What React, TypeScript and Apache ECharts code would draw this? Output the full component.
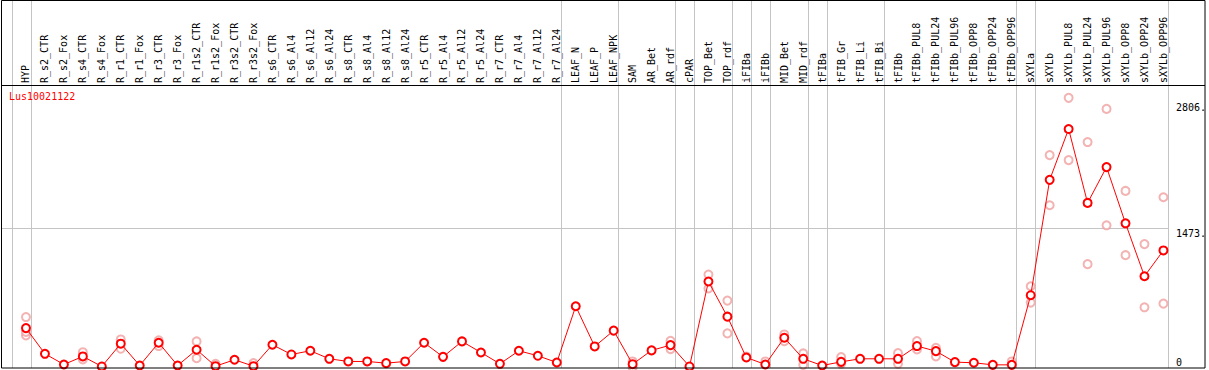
import React, { useEffect, useRef } from "react";
import * as echarts from "echarts";

const title = "Lus10021122";

const categories = [
  "HYP", "R_s2_CTR", "R_s2_Fox", "R_s4_CTR", "R_s4_Fox", "R_r1_CTR", "R_r1_Fox", "R_r3_CTR", "R_r3_Fox",
  "R_r1s2_CTR", "R_r1s2_Fox", "R_r3s2_CTR", "R_r3s2_Fox", "R_s6_CTR", "R_s6_Al4", "R_s6_Al12", "R_s6_Al24",
  "R_s8_CTR", "R_s8_Al4", "R_s8_Al12", "R_s8_Al24", "R_r5_CTR", "R_r5_Al4", "R_r5_Al12", "R_r5_Al24",
  "R_r7_CTR", "R_r7_Al4", "R_r7_Al12", "R_r7_Al24", "LEAF_N", "LEAF_P", "LEAF_NPK", "SAM", "AR_Bet", "AR_rdf",
  "cPAR", "TOP_Bet", "TOP_rdf", "iFIBa", "iFIBb", "MID_Bet", "MID_rdf", "tFIBa", "tFIB_Gr", "tFIB_Li", "tFIB_Bi",
  "tFIBb", "tFIBb_PUL8", "tFIBb_PUL24", "tFIBb_PUL96", "tFIBb_OPP8", "tFIBb_OPP24", "tFIBb_OPP96",
  "sXYLa", "sXYLb", "sXYLb_PUL8", "sXYLb_PUL24", "sXYLb_PUL96", "sXYLb_OPP8", "sXYLb_OPP24", "sXYLb_OPP96",
];

const meanValues = [
  417, 145, 32, 117, 11, 252, 21, 262, 21,
  188, 14, 82, 14, 241, 138, 177, 92,
  64, 64, 46, 64, 262, 113, 276, 159,
  39, 177, 124, 53, 648, 223, 390, 35, 181, 237,
  11, 910, 538, 106, 32, 315, 92, 21, 60, 92, 92,
  92, 227, 173, 57, 50, 28, 28,
  765, 1986, 2524, 1742, 2121, 1526, 966, 1239,
];

const repHigh = [
  534, null, null, 162, null, 297, null, 287, null,
  276, 39, null, 46, null, null, null, null,
  null, null, null, null, null, null, null, null,
  null, null, null, null, null, null, null, 64, null, 283,
  null, 984, 708, 117, 64, 350, 149, null, 110, null, null,
  152, 279, 209, null, null, null, 64,
  860, 2248, 2854, 2386, 2737, 1869, 1306, 1802,
];

const repLow = [
  340, null, null, 85, null, 198, null, 227, null,
  99, null, null, null, null, null, null, null,
  null, null, null, null, null, null, null, null,
  null, null, null, null, null, null, null, 3, null, 195,
  null, 836, 361, null, null, 279, 28, null, 39, null, null,
  39, 191, 117, null, null, null, null,
  687, 1717, 2195, 1094, 1505, 1189, 637, 676,
];

const repMid = [
  377, null, null, null, null, null, null, null, null,
  null, null, null, null, null, null, null, null,
  null, null, null, null, null, null, null, null,
  null, null, null, null, null, null, null, null, null, null,
  null, null, null, null, null, null, null, null, null, null, null,
  null, null, null, null, null, null, null,
  null, null, null, null, null, null, null, null,
];

// indices of the last category of each group (separators drawn after them)
const groupEnds = [0, 28, 31, 34, 35, 37, 38, 39, 41, 42, 45, 52, 53, 60];
const yTickValues = [0, 1473, 2806];
const refLineValues = [1473];
const yMax = 2990;

export default function App() {
  const ref = useRef<HTMLDivElement>(null);
  useEffect(() => {
    const chart = echarts.init(ref.current!, null, { renderer: "svg" });
    const font = "'DejaVu Sans Mono', monospace";
    const crisp = (v: number) => Math.round(v) + 0.5;
    const sepStyle = { stroke: "#c4c4c4", lineWidth: 1 };

    const repSeries = (data: (number | null)[]) => ({
      type: "scatter",
      data,
      symbol: "emptyCircle",
      symbolSize: 8,
      itemStyle: { color: "#f0a0a0", borderColor: "#f0a0a0", borderWidth: 1.2 },
      z: 3,
      silent: true,
    });

    const yAxisBase = {
      type: "value",
      position: "right",
      min: 0,
      max: yMax,
      axisLine: { show: false },
      axisTick: { show: false },
      splitLine: { show: false },
    };

    chart.setOption({
      animation: false,
      backgroundColor: "#fff",
      title: {
        text: title,
        left: 9,
        top: 91,
        padding: 0,
        textStyle: { color: "#ff0000", fontSize: 10, fontFamily: font, fontWeight: "normal" },
      },
      grid: { left: 16.5, right: 33.5, top: 85, bottom: 2.5 },
      xAxis: {
        type: "category",
        data: categories,
        position: "top",
        boundaryGap: true,
        axisLine: { show: false },
        axisTick: { show: false },
        splitLine: { show: false },
        axisLabel: { rotate: 90, interval: 0, margin: 2, fontFamily: font, fontSize: 10, color: "#000" },
      },
      yAxis: [
        {
          ...yAxisBase,
          axisLabel: {
            customValues: yTickValues.filter((v) => v > 0),
            verticalAlign: "top",
            margin: 3,
            formatter: (v: number) => v + ".",
            fontFamily: font,
            fontSize: 10,
            color: "#000",
          },
        },
        {
          ...yAxisBase,
          axisLabel: {
            customValues: yTickValues.filter((v) => v === 0),
            verticalAlign: "bottom",
            margin: 3,
            formatter: (v: number) => String(v),
            fontFamily: font,
            fontSize: 10,
            color: "#000",
          },
        },
      ],
      graphic: [
        {
          type: "rect",
          z: 100,
          silent: true,
          shape: { x: 1.5, y: 0.5, width: 1203.5, height: 367.5 },
          style: { fill: "none", stroke: "#000", lineWidth: 1 },
        },
        {
          type: "line",
          z: 100,
          silent: true,
          shape: { x1: 1, y1: 85.5, x2: 1205, y2: 85.5 },
          style: { stroke: "#000", lineWidth: 1 },
        },
      ],
      series: [
        {
          type: "custom",
          clip: false,
          silent: true,
          z: 1,
          data: groupEnds.map((i) => [i, 0]),
          renderItem: (params: any, api: any) => {
            const band = api.size([1, 0])[0];
            const x = crisp(api.coord([api.value(0), 0])[0] + band * 0.24);
            const children: any[] = [
              { type: "line", shape: { x1: x, y1: 0, x2: x, y2: 368 }, style: sepStyle },
            ];
            if (params.dataIndex === 0) {
              const x0 = crisp(api.coord([0, 0])[0] - band + band * 0.24);
              children.push({ type: "line", shape: { x1: x0, y1: 0, x2: x0, y2: 368 }, style: sepStyle });
              const xEnd = crisp(api.coord([categories.length - 1, 0])[0] + band * 0.24);
              refLineValues.forEach((v) => {
                const y = crisp(api.coord([0, v])[1]);
                children.push({ type: "line", shape: { x1: 1, y1: y, x2: xEnd, y2: y }, style: sepStyle });
              });
            }
            return { type: "group", children };
          },
        },
        repSeries(repHigh),
        repSeries(repLow),
        repSeries(repMid),
        {
          type: "line",
          data: meanValues,
          symbol: "emptyCircle",
          symbolSize: 8,
          showAllSymbol: true,
          lineStyle: { color: "#ff0000", width: 1 },
          itemStyle: { color: "#ff0000", borderColor: "#ff0000", borderWidth: 1.2 },
          z: 5,
          silent: true,
        },
      ],
    });
    return () => chart.dispose();
  }, []);
  return <div ref={ref} style={{ position: "fixed", left: 0, top: 0, width: 1209, height: 370 }} />;
}
